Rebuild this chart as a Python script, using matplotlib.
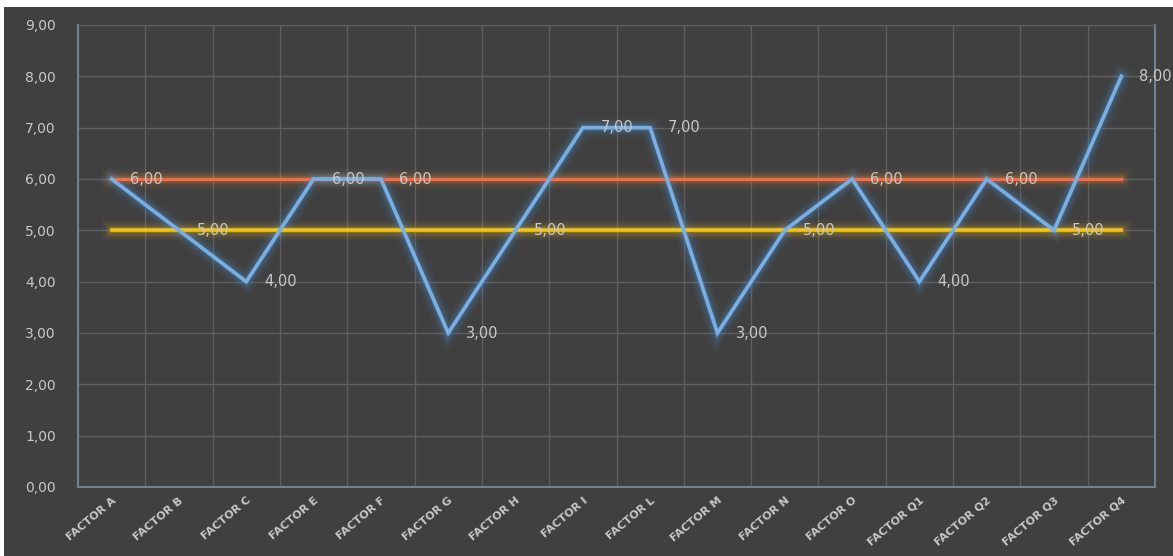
import matplotlib.pyplot as plt
from matplotlib.patches import Rectangle

# data
factors = ['FACTOR A', 'FACTOR B', 'FACTOR C', 'FACTOR E', 'FACTOR F', 'FACTOR G',
           'FACTOR H', 'FACTOR I', 'FACTOR L', 'FACTOR M', 'FACTOR N', 'FACTOR O',
           'FACTOR Q1', 'FACTOR Q2', 'FACTOR Q3', 'FACTOR Q4']
scores = [6, 5, 4, 6, 6, 3, 5, 7, 7, 3, 5, 6, 4, 6, 5, 8]
upper_ref = [6] * len(factors)
lower_ref = [5] * len(factors)
y_ticks = [0, 1, 2, 3, 4, 5, 6, 7, 8, 9]

bg = '#404040'
txt = '#c8c8c8'

fig = plt.figure(figsize=(11.73, 5.56), dpi=100, facecolor=bg)
# thin white margin at the top and left, like the screenshot
fig.patches.append(Rectangle((0, 1 - 7 / 556), 1, 7 / 556, transform=fig.transFigure,
                             facecolor='white', edgecolor='none'))
fig.patches.append(Rectangle((0, 0), 4 / 1173, 1, transform=fig.transFigure,
                             facecolor='white', edgecolor='none'))
ax = fig.add_axes([78 / 1173, 1 - 487 / 556, 1077 / 1173, 462 / 556])
ax.set_facecolor(bg)

x = list(range(len(factors)))


def glow_line(xs, ys, color, glow, lw):
    # soft halo under the line, similar to the Excel glow effect
    for w, a in [(lw + 12, 0.05), (lw + 8, 0.08), (lw + 5, 0.13), (lw + 2, 0.22)]:
        ax.plot(xs, ys, color=glow, lw=w, alpha=a, solid_joinstyle='miter', zorder=3)
    ax.plot(xs, ys, color=color, lw=lw, solid_joinstyle='miter', zorder=4)


glow_line(x, upper_ref, '#f26a4f', '#e88a2a', 2.2)
glow_line(x, lower_ref, '#f0c419', '#e0b020', 2.6)
glow_line(x, scores, '#79afe3', '#4f8fd0', 2.6)

for xi, v in zip(x, scores):
    ax.annotate(f'{v:.2f}'.replace('.', ','), (xi, v), xytext=(13, 0),
                textcoords='offset points', color=txt, fontsize=10.5,
                va='center', ha='left', zorder=6, annotation_clip=False)

ax.set_xlim(-0.5, len(factors) - 0.5)
ax.set_ylim(0, 9)
ax.set_yticks(y_ticks)
ax.set_yticklabels([f'{t:.2f}'.replace('.', ',') for t in y_ticks])
ax.set_xticks(x)
ax.set_xticklabels(factors, rotation=40, ha='right', rotation_mode='anchor')
ax.set_xticks([i + 0.5 for i in x[:-1]], minor=True)

ax.tick_params(axis='y', colors=txt, labelsize=10, length=0, pad=16)
ax.tick_params(axis='x', which='both', colors=txt, labelsize=8, length=0, pad=6)
for lab in ax.get_xticklabels():
    lab.set_fontweight('bold')

ax.grid(axis='y', which='major', color='#606060', lw=1)
ax.grid(axis='x', which='minor', color='#5e5e5e', lw=1)
ax.set_axisbelow(True)

for side in ['left', 'bottom', 'right']:
    ax.spines[side].set_color('#6e8296')
    ax.spines[side].set_linewidth(1.5)
ax.spines['top'].set_color('#606060')

plt.savefig('out.png', dpi=100, facecolor=fig.get_facecolor())
